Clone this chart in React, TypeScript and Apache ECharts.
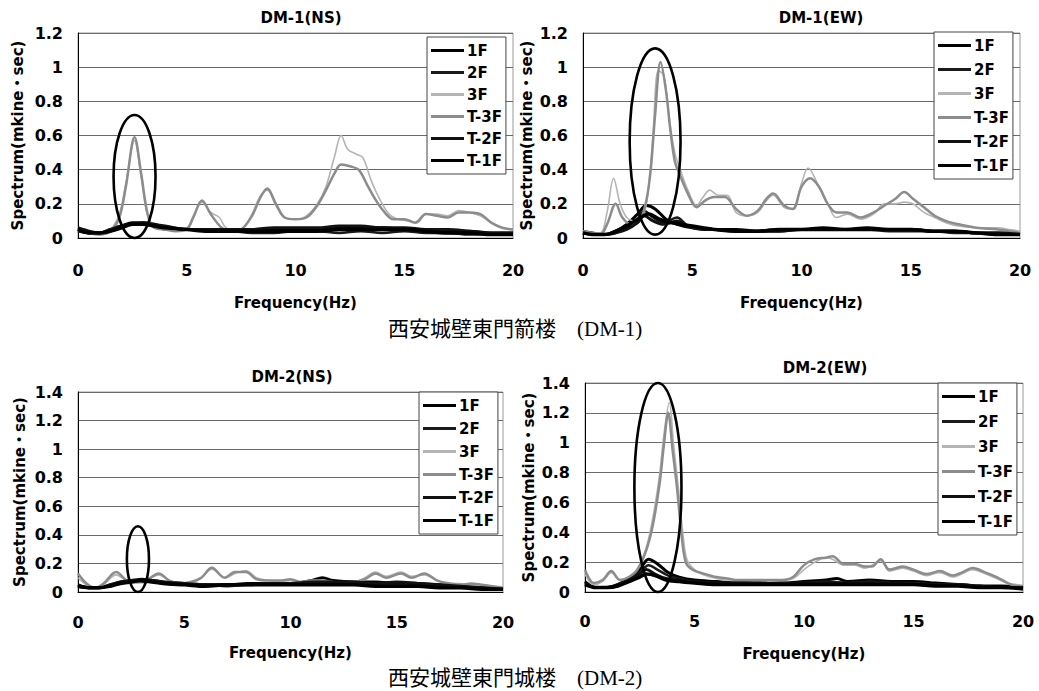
import React, { useEffect, useRef } from "react";
import * as echarts from "echarts";

type Pt = [number, number];

// ---------- DATA ----------
const SERIES_NAMES = ["1F", "2F", "3F", "T-3F", "T-2F", "T-1F"];
const PANEL_TITLES = ["DM-1(NS)", "DM-1(EW)", "DM-2(NS)", "DM-2(EW)"];
const Y_MAX = [1.2, 1.2, 1.4, 1.4];
const CAPTIONS = ["西安城壁東門箭楼　(DM-1)", "西安城壁東門城楼　(DM-2)"];
const X_NAME = "Frequency(Hz)";
const Y_NAME = "Spectrum(mkine・sec)";

// DM-1 (NS)
const P1_1F: Pt[] = [[0,0.05],[0.5,0.03],[1,0.03],[1.5,0.05],[2,0.07],[2.5,0.09],[3,0.09],[3.5,0.08],[4,0.06],[5,0.05],[6,0.05],[7,0.04],[8,0.04],[9,0.05],[10,0.05],[11,0.05],[12,0.06],[13,0.06],[14,0.06],[15,0.05],[16,0.05],[17,0.04],[18,0.04],[19,0.03],[20,0.03]];
const P1_2F: Pt[] = [[0,0.04],[0.5,0.03],[1,0.03],[1.5,0.04],[2,0.06],[2.5,0.08],[3,0.08],[3.5,0.07],[4,0.05],[5,0.05],[6,0.04],[7,0.04],[8,0.03],[9,0.03],[10,0.04],[11,0.04],[12,0.03],[13,0.04],[14,0.03],[15,0.04],[16,0.03],[17,0.03],[18,0.02],[19,0.02],[20,0.02]];
const P1_3F: Pt[] = [[0,0.05],[0.5,0.03],[1,0.02],[1.5,0.05],[1.9,0.14],[2.2,0.32],[2.6,0.57],[2.9,0.36],[3.2,0.13],[3.5,0.06],[4,0.05],[4.5,0.05],[5,0.06],[5.3,0.13],[5.7,0.21],[6.1,0.15],[6.5,0.12],[6.8,0.06],[7.2,0.05],[7.6,0.06],[8,0.14],[8.4,0.25],[8.7,0.28],[9.1,0.19],[9.5,0.12],[10,0.11],[10.5,0.13],[11,0.2],[11.4,0.3],[11.8,0.48],[12.1,0.6],[12.4,0.52],[12.8,0.49],[13.1,0.47],[13.5,0.33],[13.9,0.22],[14.3,0.14],[14.7,0.11],[15.2,0.1],[15.6,0.09],[16,0.14],[16.5,0.14],[17,0.13],[17.5,0.16],[18,0.15],[18.5,0.13],[19,0.09],[19.5,0.06],[20,0.05]];
const P1_T3F: Pt[] = [[0,0.05],[0.5,0.03],[1,0.02],[1.5,0.04],[1.9,0.12],[2.2,0.3],[2.6,0.59],[2.9,0.38],[3.2,0.14],[3.5,0.06],[4,0.05],[4.5,0.04],[5,0.05],[5.3,0.12],[5.7,0.22],[6.1,0.14],[6.6,0.06],[7,0.04],[7.5,0.05],[8,0.13],[8.4,0.24],[8.7,0.29],[9.1,0.2],[9.5,0.12],[10,0.11],[10.5,0.12],[11,0.19],[11.4,0.28],[11.8,0.38],[12.1,0.43],[12.5,0.42],[12.9,0.4],[13.3,0.31],[13.7,0.22],[14.1,0.15],[14.5,0.11],[15,0.11],[15.5,0.09],[16,0.14],[16.5,0.13],[17,0.12],[17.5,0.15],[18,0.15],[18.5,0.14],[19,0.09],[19.5,0.06],[20,0.05]];
const P1_T2F: Pt[] = [[0,0.06],[0.5,0.04],[1,0.03],[1.5,0.05],[2,0.07],[2.5,0.08],[3,0.09],[3.5,0.08],[4,0.07],[5,0.05],[6,0.05],[7,0.05],[8,0.05],[9,0.06],[10,0.06],[11,0.06],[12,0.07],[13,0.07],[14,0.06],[15,0.06],[16,0.05],[17,0.05],[18,0.04],[19,0.03],[20,0.03]];
const P1_T1F: Pt[] = [[0,0.05],[0.5,0.03],[1,0.03],[1.5,0.04],[2,0.06],[2.5,0.08],[3,0.08],[3.5,0.07],[4,0.06],[5,0.05],[6,0.04],[7,0.04],[8,0.04],[9,0.04],[10,0.04],[11,0.04],[12,0.05],[13,0.05],[14,0.05],[15,0.05],[16,0.04],[17,0.03],[18,0.03],[19,0.02],[20,0.02]];

// DM-1 (EW)
const P2_1F: Pt[] = [[0,0.03],[0.5,0.02],[1,0.02],[1.5,0.04],[2,0.08],[2.5,0.14],[2.9,0.19],[3.3,0.17],[3.8,0.11],[4.3,0.08],[5,0.06],[6,0.05],[7,0.05],[8,0.04],[9,0.05],[10,0.05],[11,0.06],[12,0.05],[13,0.06],[14,0.05],[15,0.05],[16,0.04],[17,0.04],[18,0.03],[19,0.03],[20,0.02]];
const P2_2F: Pt[] = [[0,0.04],[0.5,0.03],[1,0.02],[1.5,0.03],[2,0.06],[2.5,0.11],[2.8,0.16],[3.2,0.12],[3.7,0.09],[4.3,0.12],[4.7,0.08],[5,0.06],[6,0.05],[7,0.04],[8,0.04],[9,0.04],[10,0.05],[11,0.05],[12,0.05],[13,0.05],[14,0.04],[15,0.04],[16,0.04],[17,0.03],[18,0.03],[19,0.02],[20,0.02]];
const P2_3F: Pt[] = [[0,0.04],[0.4,0.03],[0.8,0.03],[1.1,0.15],[1.4,0.35],[1.7,0.2],[2,0.12],[2.4,0.1],[2.8,0.15],[3,0.3],[3.2,0.6],[3.45,0.98],[3.7,0.95],[3.95,0.7],[4.2,0.5],[4.45,0.4],[4.8,0.28],[5.2,0.19],[5.5,0.24],[5.8,0.28],[6.2,0.25],[6.6,0.25],[7,0.15],[7.5,0.13],[8,0.15],[8.4,0.22],[8.7,0.25],[9.2,0.18],[9.6,0.17],[10,0.32],[10.3,0.41],[10.8,0.3],[11.2,0.2],[11.6,0.12],[12.1,0.14],[12.7,0.11],[13.3,0.14],[13.8,0.2],[14.3,0.2],[14.7,0.21],[15.1,0.2],[15.6,0.15],[16.1,0.12],[16.6,0.09],[17.2,0.07],[18,0.06],[19,0.06],[19.5,0.05],[20,0.04]];
const P2_T3F: Pt[] = [[0,0.04],[0.4,0.03],[0.8,0.02],[1.1,0.08],[1.5,0.2],[1.8,0.12],[2.2,0.08],[2.6,0.1],[2.9,0.22],[3.1,0.4],[3.3,0.72],[3.55,1.03],[3.8,0.86],[4,0.63],[4.2,0.45],[4.4,0.38],[4.8,0.26],[5.2,0.18],[5.6,0.22],[6,0.24],[6.5,0.24],[7,0.17],[7.5,0.13],[8,0.16],[8.4,0.23],[8.7,0.26],[9.2,0.19],[9.6,0.17],[10,0.3],[10.4,0.35],[10.8,0.3],[11.2,0.2],[11.6,0.15],[12.1,0.15],[12.7,0.12],[13.3,0.15],[13.8,0.19],[14.3,0.23],[14.7,0.27],[15.1,0.23],[15.6,0.18],[16.1,0.13],[16.6,0.1],[17.2,0.08],[18,0.06],[19,0.05],[19.5,0.04],[20,0.03]];
const P2_T2F: Pt[] = [[0,0.03],[0.5,0.02],[1,0.02],[1.5,0.03],[2,0.05],[2.5,0.09],[2.8,0.13],[3.2,0.1],[3.7,0.08],[4.3,0.1],[4.8,0.07],[5.5,0.05],[6,0.05],[7,0.04],[8,0.04],[9,0.04],[10,0.05],[11,0.05],[12,0.05],[13,0.05],[14,0.05],[15,0.05],[16,0.04],[17,0.04],[18,0.03],[19,0.03],[20,0.02]];
const P2_T1F: Pt[] = [[0,0.03],[0.5,0.02],[1,0.02],[1.5,0.04],[2,0.07],[2.5,0.11],[3,0.14],[3.5,0.11],[4,0.09],[4.5,0.08],[5,0.07],[6,0.05],[7,0.04],[8,0.04],[9,0.05],[10,0.05],[11,0.05],[12,0.05],[13,0.05],[14,0.05],[15,0.05],[16,0.04],[17,0.04],[18,0.03],[19,0.02],[20,0.02]];

// DM-2 (NS)
const P3_1F: Pt[] = [[0,0.05],[0.5,0.03],[1,0.03],[1.5,0.05],[2,0.07],[2.5,0.08],[3,0.08],[3.5,0.08],[4,0.07],[5,0.06],[6,0.05],[7,0.05],[8,0.06],[9,0.06],[10,0.06],[11,0.08],[11.5,0.1],[12,0.08],[13,0.07],[14,0.07],[15,0.06],[16,0.06],[17,0.05],[18,0.04],[19,0.03],[20,0.02]];
const P3_2F: Pt[] = [[0,0.04],[0.5,0.03],[1,0.03],[1.5,0.04],[2,0.06],[2.5,0.07],[3,0.07],[3.5,0.07],[4,0.06],[5,0.05],[6,0.05],[7,0.04],[8,0.05],[9,0.05],[10,0.05],[11,0.06],[12,0.06],[13,0.05],[14,0.05],[15,0.05],[16,0.04],[17,0.04],[18,0.03],[19,0.03],[20,0.02]];
const P3_3F: Pt[] = [[0,0.1],[0.4,0.05],[0.8,0.03],[1.2,0.05],[1.8,0.12],[2.3,0.08],[2.8,0.07],[3.3,0.09],[3.8,0.12],[4.3,0.08],[4.8,0.06],[5.3,0.06],[5.8,0.1],[6.3,0.16],[6.9,0.1],[7.4,0.13],[7.9,0.15],[8.4,0.1],[9,0.08],[9.5,0.07],[10,0.08],[10.5,0.07],[11,0.07],[11.5,0.07],[12,0.07],[12.5,0.07],[13,0.07],[13.5,0.1],[14,0.14],[14.5,0.11],[15.2,0.14],[15.7,0.11],[16.3,0.12],[16.9,0.08],[17.5,0.06],[18,0.06],[18.5,0.05],[19,0.05],[19.5,0.04],[20,0.03]];
const P3_T3F: Pt[] = [[0,0.13],[0.4,0.06],[0.8,0.03],[1.2,0.06],[1.8,0.14],[2.3,0.08],[2.8,0.07],[3.3,0.09],[3.8,0.13],[4.3,0.08],[4.8,0.06],[5.3,0.07],[5.8,0.1],[6.3,0.17],[6.9,0.1],[7.4,0.14],[7.9,0.14],[8.4,0.09],[9,0.08],[9.5,0.08],[10,0.09],[10.5,0.07],[11,0.08],[11.5,0.08],[12,0.07],[12.5,0.06],[13,0.07],[13.5,0.09],[14,0.13],[14.5,0.1],[15.2,0.13],[15.7,0.1],[16.3,0.13],[16.9,0.08],[17.5,0.06],[18,0.05],[18.5,0.06],[19,0.05],[19.5,0.04],[20,0.03]];
const P3_T2F: Pt[] = [[0,0.05],[0.5,0.03],[1,0.03],[1.5,0.05],[2,0.07],[2.5,0.08],[3,0.09],[3.5,0.08],[4,0.07],[5,0.06],[6,0.05],[7,0.05],[8,0.05],[9,0.06],[10,0.06],[11,0.07],[12,0.07],[13,0.07],[14,0.06],[15,0.07],[16,0.06],[17,0.05],[18,0.04],[19,0.03],[20,0.02]];
const P3_T1F: Pt[] = [[0,0.04],[0.5,0.03],[1,0.03],[1.5,0.04],[2,0.06],[2.5,0.07],[3,0.08],[3.5,0.07],[4,0.06],[5,0.05],[6,0.04],[7,0.05],[8,0.05],[9,0.05],[10,0.05],[11,0.05],[12,0.05],[13,0.05],[14,0.04],[15,0.04],[16,0.04],[17,0.03],[18,0.03],[19,0.02],[20,0.02]];

// DM-2 (EW)
const P4_1F: Pt[] = [[0,0.07],[0.5,0.03],[1,0.03],[1.5,0.05],[2,0.09],[2.5,0.15],[2.9,0.22],[3.3,0.19],[3.8,0.13],[4.3,0.1],[5,0.08],[6,0.07],[7,0.06],[8,0.06],[9,0.06],[10,0.07],[11,0.08],[11.5,0.09],[12,0.07],[13,0.08],[14,0.07],[15,0.07],[16,0.06],[17,0.05],[18,0.04],[19,0.04],[20,0.03]];
const P4_2F: Pt[] = [[0,0.05],[0.5,0.03],[1,0.03],[1.5,0.04],[2,0.08],[2.5,0.13],[2.9,0.18],[3.3,0.15],[3.8,0.11],[4.3,0.09],[5,0.07],[6,0.06],[7,0.06],[8,0.06],[9,0.06],[10,0.06],[11,0.07],[12,0.06],[13,0.07],[14,0.06],[15,0.06],[16,0.05],[17,0.05],[18,0.04],[19,0.03],[20,0.03]];
const P4_3F: Pt[] = [[0,0.12],[0.4,0.05],[0.8,0.07],[1.2,0.13],[1.6,0.08],[2,0.1],[2.4,0.16],[2.8,0.3],[3.1,0.5],[3.4,0.78],[3.6,1.05],[3.85,1.27],[4.05,0.98],[4.25,0.72],[4.45,0.42],[4.65,0.22],[5,0.15],[5.5,0.11],[6,0.09],[6.5,0.08],[7,0.08],[8,0.07],[9,0.08],[9.5,0.09],[10,0.15],[10.5,0.2],[11,0.23],[11.3,0.22],[11.8,0.18],[12.3,0.18],[12.8,0.16],[13.1,0.18],[13.5,0.21],[13.9,0.14],[14.5,0.16],[15,0.14],[15.6,0.11],[16.2,0.13],[16.8,0.1],[17.2,0.12],[17.7,0.15],[18.3,0.12],[18.8,0.09],[19.3,0.06],[19.7,0.05],[20,0.04]];
const P4_T3F: Pt[] = [[0,0.15],[0.4,0.06],[0.8,0.08],[1.2,0.14],[1.6,0.08],[2,0.1],[2.4,0.15],[2.8,0.28],[3.1,0.45],[3.4,0.72],[3.6,0.98],[3.8,1.2],[4,0.95],[4.2,0.7],[4.4,0.4],[4.6,0.2],[4.9,0.15],[5.5,0.12],[6,0.1],[6.5,0.09],[7,0.08],[8,0.08],[9,0.08],[9.5,0.1],[10,0.18],[10.5,0.22],[11,0.23],[11.3,0.24],[11.8,0.19],[12.3,0.19],[12.8,0.17],[13.1,0.17],[13.5,0.22],[13.9,0.15],[14.5,0.17],[15,0.15],[15.6,0.12],[16.2,0.14],[16.8,0.11],[17.2,0.13],[17.7,0.16],[18.3,0.13],[18.8,0.1],[19.3,0.06],[19.7,0.04],[20,0.04]];
const P4_T2F: Pt[] = [[0,0.06],[0.5,0.03],[1,0.03],[1.5,0.05],[2,0.08],[2.5,0.12],[2.8,0.15],[3.2,0.12],[3.7,0.09],[4.3,0.08],[5,0.07],[6,0.06],[7,0.06],[8,0.06],[9,0.05],[10,0.06],[11,0.06],[12,0.06],[13,0.06],[14,0.06],[15,0.05],[16,0.05],[17,0.05],[18,0.04],[19,0.03],[20,0.03]];
const P4_T1F: Pt[] = [[0,0.05],[0.5,0.03],[1,0.03],[1.5,0.04],[2,0.07],[2.5,0.1],[2.8,0.12],[3.2,0.11],[3.7,0.08],[4.3,0.07],[5,0.06],[6,0.05],[7,0.05],[8,0.05],[9,0.05],[10,0.05],[11,0.05],[12,0.05],[13,0.05],[14,0.05],[15,0.05],[16,0.04],[17,0.04],[18,0.03],[19,0.03],[20,0.02]];

const PANEL_DATA: Pt[][][] = [
  [P1_1F, P1_2F, P1_3F, P1_T3F, P1_T2F, P1_T1F],
  [P2_1F, P2_2F, P2_3F, P2_T3F, P2_T2F, P2_T1F],
  [P3_1F, P3_2F, P3_3F, P3_T3F, P3_T2F, P3_T1F],
  [P4_1F, P4_2F, P4_3F, P4_T3F, P4_T2F, P4_T1F],
];

// highlighted peaks (ellipses), in data units: centre freq, width in Hz, top, bottom
const ELLIPSE_PANEL = [0, 1, 2, 3];
const ELLIPSE_FREQ = [2.6, 3.3, 2.82, 3.33];
const ELLIPSE_WIDTH = [1.93, 2.33, 1.04, 2.15];
const ELLIPSE_TOP = [0.72, 1.11, 0.46, 1.4];
const ELLIPSE_BOTTOM = [0.0, 0.02, 0.0, 0.0];

// ---------- LAYOUT / STYLE ----------
const FONT = "'DejaVu Sans', 'Noto Sans CJK JP', sans-serif";
const SERIF = "'Liberation Serif', 'DejaVu Serif', 'Noto Sans CJK JP', serif";
const GRIDS = [
  { left: 78, top: 33, width: 435, height: 205 },
  { left: 583, top: 33, width: 437, height: 205 },
  { left: 78, top: 392, width: 425, height: 200 },
  { left: 585, top: 383, width: 438, height: 209 },
];
const TITLE_POS = [
  { x: 301, y: 10 },
  { x: 821, y: 10 },
  { x: 292, y: 369 },
  { x: 825, y: 360 },
];
const LEGEND_POS = [
  { left: 427, top: 37, gap: 7 },
  { left: 934, top: 32, gap: 9 },
  { left: 419, top: 392, gap: 8 },
  { left: 938, top: 383, gap: 10 },
];
const Y_NAME_GAP = [53, 49, 51, 49];
const X_NAME_GAP = [57, 57, 53, 54];
const X_LABEL_MARGIN = [24, 24, 22, 21];
const CAPTION_POS = [
  { x: 388, y: 318 },
  { x: 388, y: 667 },
];
const LINE_STYLES: Record<string, { color: string; width: number }> = {
  "1F": { color: "#000000", width: 3 },
  "2F": { color: "#1a1a1a", width: 2.5 },
  "3F": { color: "#b4b4b4", width: 1.6 },
  "T-3F": { color: "#8c8c8c", width: 2.5 },
  "T-2F": { color: "#111111", width: 3 },
  "T-1F": { color: "#000000", width: 3.5 },
};

function buildOption(): any {
  const title: any[] = PANEL_TITLES.map((t, i) => ({
    text: t,
    left: TITLE_POS[i].x,
    top: TITLE_POS[i].y,
    textAlign: "center",
    padding: 0,
    textStyle: { fontFamily: FONT, fontSize: 15, fontWeight: "bold", color: "#000" },
  }));
  CAPTIONS.forEach((c, i) => {
    title.push({
      text: c,
      left: CAPTION_POS[i].x,
      top: CAPTION_POS[i].y,
      padding: 0,
      textStyle: { fontFamily: SERIF, fontSize: 21, fontWeight: "normal", color: "#000" },
    });
  });

  const grid = GRIDS.map((g) => ({
    ...g,
    show: true,
    borderColor: "#9a9a9a",
    borderWidth: 1,
    backgroundColor: "#fff",
    containLabel: false,
  }));

  const xAxis = GRIDS.map((_, i) => ({
    type: "value",
    gridIndex: i,
    min: 0,
    max: 20,
    interval: 5,
    name: X_NAME,
    nameLocation: "middle",
    nameGap: X_NAME_GAP[i],
    nameTextStyle: { fontFamily: FONT, fontSize: 15, fontWeight: "bold", color: "#000" },
    axisLine: { show: true, lineStyle: { color: "#000", width: 1 } },
    axisTick: { show: false },
    splitLine: { show: false },
    axisLabel: {
      margin: X_LABEL_MARGIN[i],
      fontFamily: FONT,
      fontSize: 16,
      fontWeight: "bold",
      color: "#000",
    },
  }));

  const yAxis = GRIDS.map((_, i) => ({
    type: "value",
    gridIndex: i,
    min: 0,
    max: Y_MAX[i],
    interval: 0.2,
    name: Y_NAME,
    nameLocation: "middle",
    nameGap: Y_NAME_GAP[i],
    nameTextStyle: { fontFamily: FONT, fontSize: 15, fontWeight: "bold", color: "#000" },
    axisLine: { show: true, lineStyle: { color: "#000", width: 1 } },
    axisTick: { show: false },
    splitLine: { show: true, lineStyle: { color: "#6a6a6a", width: 1 } },
    axisLabel: {
      margin: 15,
      fontFamily: FONT,
      fontSize: 16,
      fontWeight: "bold",
      color: "#000",
      formatter: (v: number) => String(Math.round(v * 10) / 10),
    },
  }));

  const legend = LEGEND_POS.map((p) => ({
    data: SERIES_NAMES,
    orient: "vertical",
    left: p.left,
    top: p.top,
    icon: "rect",
    itemWidth: 33,
    itemHeight: 3,
    itemGap: p.gap,
    padding: [6, 4, 6, 4],
    backgroundColor: "#fff",
    borderColor: "#444",
    borderWidth: 1,
    borderRadius: 0,
    selectedMode: false,
    textStyle: { fontFamily: FONT, fontSize: 15, fontWeight: "bold", color: "#000", padding: [0, 0, 0, -2] },
  }));

  const series: any[] = [];
  PANEL_DATA.forEach((panel, i) => {
    panel.forEach((data, k) => {
      const name = SERIES_NAMES[k];
      const st = LINE_STYLES[name];
      series.push({
        type: "line",
        name,
        xAxisIndex: i,
        yAxisIndex: i,
        data,
        symbol: "none",
        showSymbol: false,
        smooth: 0.35,
        color: st.color,
        itemStyle: { color: st.color },
        lineStyle: { color: st.color, width: st.width },
        emphasis: { disabled: true },
      });
    });
  });

  return {
    animation: false,
    backgroundColor: "#fff",
    title,
    grid,
    xAxis,
    yAxis,
    legend,
    series,
  };
}

export default function App() {
  const ref = useRef<HTMLDivElement>(null);
  useEffect(() => {
    if (!ref.current) return;
    const chart = echarts.init(ref.current, null, { renderer: "svg" });
    chart.setOption(buildOption());
    const graphic = ELLIPSE_PANEL.map((p, i) => {
      const left = chart.convertToPixel({ gridIndex: p } as any, [ELLIPSE_FREQ[i] - ELLIPSE_WIDTH[i] / 2, ELLIPSE_TOP[i]]) as number[];
      const right = chart.convertToPixel({ gridIndex: p } as any, [ELLIPSE_FREQ[i] + ELLIPSE_WIDTH[i] / 2, ELLIPSE_BOTTOM[i]]) as number[];
      return {
        type: "ellipse",
        z: 100,
        silent: true,
        shape: {
          cx: (left[0] + right[0]) / 2,
          cy: (left[1] + right[1]) / 2,
          rx: Math.abs(right[0] - left[0]) / 2,
          ry: Math.abs(right[1] - left[1]) / 2,
        },
        style: { fill: "none", stroke: "#000", lineWidth: 2.6 },
      };
    });
    chart.setOption({ graphic });
    return () => chart.dispose();
  }, []);
  return (
    <div
      ref={ref}
      style={{ position: "fixed", left: 0, top: 0, width: 1039, height: 691, background: "#fff" }}
    />
  );
}
